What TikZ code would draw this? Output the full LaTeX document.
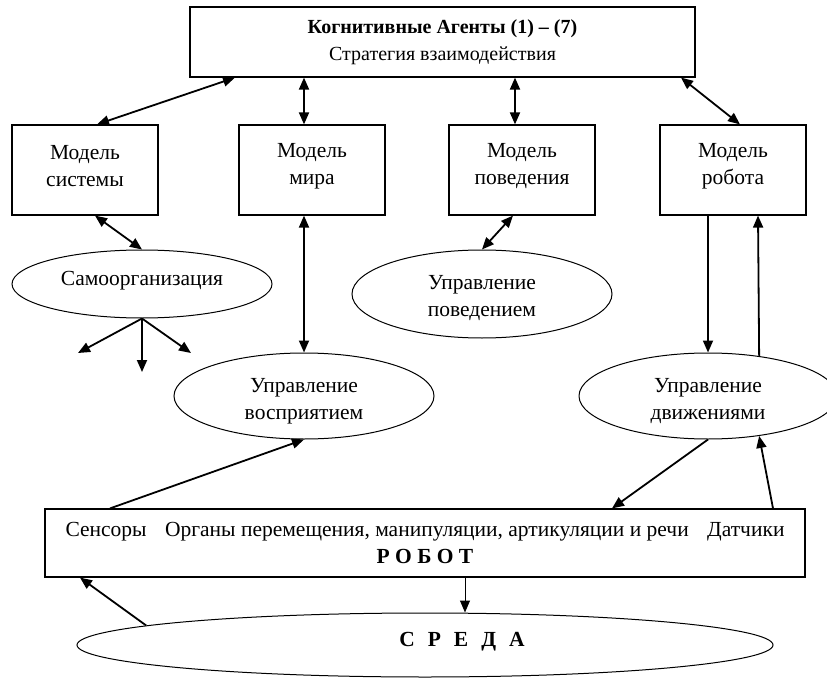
\documentclass[tikz,border=0pt]{standalone}
\usepackage{fontspec}
\setmainfont{Liberation Serif}
\usetikzlibrary{arrows.meta,shapes.geometric}
\begin{document}
\begin{tikzpicture}[x=1pt,y=-1pt,
  every node/.style={font=\fontsize{21.5}{27}\selectfont},
  box/.style={draw, line width=1.2pt, rectangle, inner sep=0pt, align=center},
  oval/.style={draw, line width=1pt, ellipse, inner sep=0pt},
  lbl/.style={align=center, inner sep=0pt},
  one/.style={line width=1.8pt, -{Triangle[length=12pt,width=10pt]}},
  thin1/.style={line width=1pt, -{Triangle[length=12pt,width=10pt]}},
  two/.style={line width=1.8pt, {Triangle[length=12pt,width=10pt]}-{Triangle[length=12pt,width=10pt]}}
]
\useasboundingbox (0,0) rectangle (827,679);

% top box
\node[box, minimum width=505pt, minimum height=70pt, font=\fontsize{20}{27}\selectfont] (top) at (442.5,42)
  {\textbf{Когнитивные Агенты (1) – (7)}\\Стратегия взаимодействия};

% model boxes
\node[box, minimum width=146pt, minimum height=90pt] (ms) at (85,170) {};
\node[box, minimum width=146pt, minimum height=90pt] (mm) at (312,170) {};
\node[box, minimum width=146pt, minimum height=90pt] (mp) at (522,170) {};
\node[box, minimum width=146pt, minimum height=90pt] (mr) at (733,170) {};
\node[lbl] (mst) at (85,166) {Модель\\системы};
\node[lbl] (mmt) at (312,166) {Модель\\мира};
\node[lbl] (mpt) at (522,166) {Модель\\поведения};
\node[lbl] (mrt) at (733,166) {Модель\\робота};

% ellipses
\node[oval, minimum width=260pt, minimum height=68pt] (so) at (142,284) {};
\node[lbl] (sot) at (142,281) {Самоорганизация};
\node[oval, minimum width=260pt, minimum height=88pt] (up) at (482,294) {};
\node[lbl] (upt) at (482,298) {Управление\\поведением};
\node[oval, minimum width=260pt, minimum height=86pt] (uv) at (304,396) {};
\node[lbl] (uvt) at (304,401) {Управление\\восприятием};
\node[oval, minimum width=258pt, minimum height=86pt] (ud) at (708,396) {};
\node[lbl] (udt) at (708,401) {Управление\\движениями};

% robot and environment
\node[box, minimum width=760pt, minimum height=68pt] (rb) at (425,543)
  {\makebox[719pt]{Сенсоры\hfill Органы перемещения, манипуляции, артикуляции и речи\hfill Датчики}\\
   \textbf{Р О Б О Т}};
\node[oval, minimum width=696pt, minimum height=64pt] (sr) at (425,645) {};
\node[lbl] (srt) at (462,642)
  {\textbf{С\hspace{13pt}Р\hspace{13pt}Е\hspace{13pt}Д\hspace{13pt}А}};

% helper coordinates
\coordinate (c235) at (235,0);
\coordinate (c97) at (97,0);
\coordinate (c304) at (304,0);
\coordinate (c515) at (515,0);
\coordinate (c681) at (681,0);
\coordinate (c740) at (740,0);
\coordinate (c95) at (95,0);
\coordinate (c513) at (513,0);
\coordinate (c758) at (758,0);
\coordinate (c773) at (773,0);
\coordinate (c612) at (612,0);
\coordinate (c110) at (110,0);
\coordinate (c465) at (465,0);
\coordinate (c80) at (80,0);
\coordinate (e1) at (78,353);
\coordinate (e2) at (142,372);
\coordinate (e3) at (191,353);

% connectors top
\draw[two] (top.south -| c235) -- (ms.north -| c97);
\draw[two] (top.south -| c304) -- (mm.north -| c304);
\draw[two] (top.south -| c515) -- (mp.north -| c515);
\draw[two] (top.south -| c681) -- (mr.north -| c740);

% second level
\draw[two] (ms.south -| c95) -- (so.north);
\draw[one] (so.south) -- (e1);
\draw[one] (so.south) -- (e2);
\draw[one] (so.south) -- (e3);
\draw[two] (mm.south -| c304) -- (uv.north);
\draw[two] (mp.south -| c513) -- (up.north);
\draw[one] (mr.south -| ud.north) -- (ud.north);
\draw[one] (ud.38) -- (mr.south -| c758);

% robot links
\draw[one] (rb.north -| c110) -- (uv.south);
\draw[one] (ud.south) -- (rb.north -| c612);
\draw[one] (rb.north -| c773) -- (ud.-38);
\draw[thin1] (rb.south -| c465) -- (sr.north -| c465);
\draw[one] (sr.176) -- (rb.south -| c80);
\end{tikzpicture}
\end{document}
